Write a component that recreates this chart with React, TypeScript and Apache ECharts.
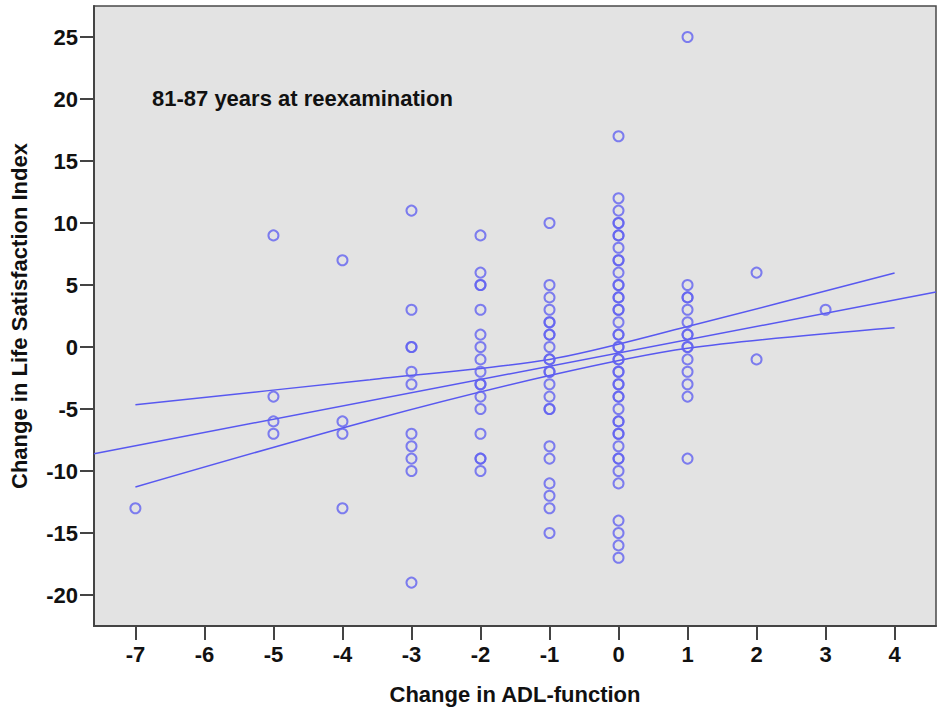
import React, { useEffect, useRef } from "react";
import * as echarts from "echarts";

// Tick labels
const xTicks = [-7, -6, -5, -4, -3, -2, -1, 0, 1, 2, 3, 4];
const yTicks = [-20, -15, -10, -5, 0, 5, 10, 15, 20, 25];

// Change in ADL-function (x categories of the scatter columns)
const adlChange = [-7, -5, -4, -3, -2, -1, 0, 1, 2, 3];
// Change in Life Satisfaction Index values observed at each ADL change
const lsiAtM7 = [-13];
const lsiAtM5 = [9, -4, -6, -7];
const lsiAtM4 = [7, -6, -7, -13];
const lsiAtM3 = [11, 3, 0, 0, -2, -3, -7, -8, -9, -10, -19];
const lsiAtM2 = [9, 6, 5, 5, 3, 1, 0, -1, -2, -3, -3, -4, -5, -7, -9, -9, -10];
const lsiAtM1 = [10, 5, 4, 3, 2, 2, 1, 1, 0, -1, -1, -2, -2, -3, -4, -5, -5, -8, -9, -11, -12, -13, -15];
const lsiAt0 = [17, 12, 11, 10, 10, 9, 9, 8, 7, 7, 6, 5, 5, 4, 4, 3, 3, 2, 1, 1, 0, 0, -1, -1, -2, -2, -3, -3, -4, -4, -5, -6, -6, -7, -7, -8, -9, -9, -10, -11, -14, -15, -16, -17];
const lsiAt1 = [25, 5, 4, 4, 3, 2, 1, 1, 0, 0, -1, -2, -3, -4, -9];
const lsiAt2 = [6, -1];
const lsiAt3 = [3];
const lsiColumns = [lsiAtM7, lsiAtM5, lsiAtM4, lsiAtM3, lsiAtM2, lsiAtM1, lsiAt0, lsiAt1, lsiAt2, lsiAt3];

// Fit line
const fitX = [-7.6, 4.6];
const fitY = [-8.6, 4.43];
// Confidence band
const ciX = [-7, -3.6, -1, 1, 4];
const ciUpper = [-4.65, -2.64, -1.0, 1.65, 5.97];
const ciLower = [-11.29, -5.92, -2.3, -0.1, 1.56];

const annotation = "81-87 years at reexamination";
const xTitle = "Change in ADL-function";
const yTitle = "Change in Life Satisfaction Index";

const FONT = '"Liberation Sans", Arial, sans-serif';
const BLUE_MARK = "#6262f0";
const BLUE_LINE = "#5858f0";

export default function App() {
  const ref = useRef<HTMLDivElement>(null);
  useEffect(() => {
    if (!ref.current) return;
    const chart = echarts.init(ref.current, undefined, { renderer: "svg" });
    const scatterData: number[][] = [];
    adlChange.forEach((x, i) => {
      lsiColumns[i].forEach((y) => scatterData.push([x, y]));
    });
    const pairs = (xs: number[], ys: number[]) => xs.map((x, i) => [x, ys[i]]);
    const lineStyle = { color: BLUE_LINE, width: 1.5 };
    chart.setOption({
      animation: false,
      grid: {
        left: 92,
        right: 1,
        top: 6,
        bottom: 85,
        show: true,
        backgroundColor: "#e3e3e3",
        borderColor: "#4a4a4a",
        borderWidth: 1.5,
      },
      xAxis: {
        type: "value",
        min: -7.6,
        max: 4.6,
        name: xTitle,
        nameLocation: "middle",
        nameGap: 57,
        nameTextStyle: { fontFamily: FONT, fontWeight: "bold", fontSize: 22, color: "#111" },
        axisLine: { show: true, onZero: false, lineStyle: { color: "#444", width: 2 } },
        axisTick: { show: true, length: 14, customValues: xTicks, lineStyle: { color: "#444", width: 2 } },
        axisLabel: {
          customValues: xTicks,
          margin: 17,
          fontFamily: FONT,
          fontWeight: "bold",
          fontSize: 22,
          color: "#111",
        },
        splitLine: { show: false },
      },
      yAxis: {
        type: "value",
        min: -22.5,
        max: 27.5,
        name: yTitle,
        nameLocation: "middle",
        nameGap: 64,
        nameTextStyle: { fontFamily: FONT, fontWeight: "bold", fontSize: 22, color: "#111" },
        axisLine: { show: true, onZero: false, lineStyle: { color: "#444", width: 2 } },
        axisTick: { show: true, length: 14, customValues: yTicks, lineStyle: { color: "#444", width: 2 } },
        axisLabel: {
          customValues: yTicks,
          margin: 16,
          fontFamily: FONT,
          fontWeight: "bold",
          fontSize: 22,
          color: "#111",
        },
        splitLine: { show: false },
      },
      graphic: [
        {
          type: "text",
          left: 152,
          top: 87,
          style: { text: annotation, font: `bold 22px ${FONT}`, fill: "#111" },
        },
      ],
      series: [
        {
          type: "scatter",
          data: scatterData,
          symbol: "circle",
          symbolSize: 10,
          itemStyle: { color: "rgba(0,0,0,0)", borderColor: BLUE_MARK, borderWidth: 2 },
          z: 3,
        },
        { type: "line", data: pairs(fitX, fitY), showSymbol: false, lineStyle, z: 2 },
        { type: "line", data: pairs(ciX, ciUpper), showSymbol: false, smooth: 0.3, lineStyle, z: 2 },
        { type: "line", data: pairs(ciX, ciLower), showSymbol: false, smooth: 0.3, lineStyle, z: 2 },
      ],
    });
    return () => chart.dispose();
  }, []);
  return (
    <div
      ref={ref}
      style={{ position: "fixed", left: 0, top: 0, width: 937, height: 711, background: "#fff" }}
    />
  );
}
